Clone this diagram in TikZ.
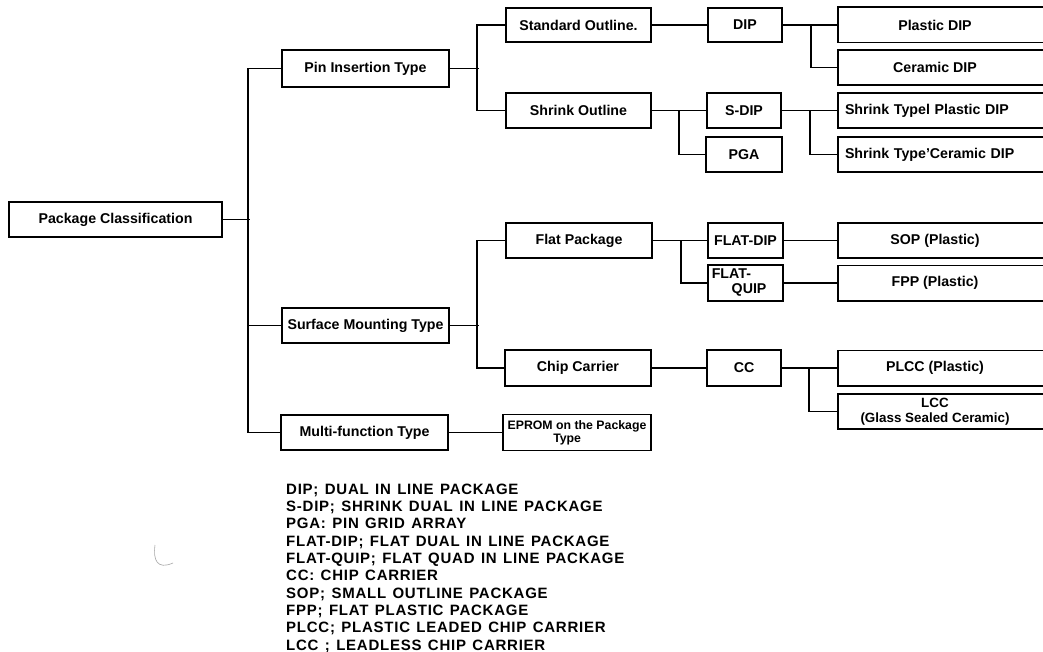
\documentclass[tikz,border=0pt]{standalone}
\usepackage{fontspec}
\setmainfont{Liberation Sans}
\newfontfamily\legendfont[LetterSpace=5,WordSpace=1.3]{Liberation Sans}
\begin{document}
\begin{tikzpicture}[x=1pt,y=-1pt,
  box/.style={draw=black, line width=1.6pt, inner sep=1pt, minimum height=35pt,
    font=\fontsize{14.2}{15}\selectfont\bfseries, align=center},
  rbox/.style={inner sep=1pt, minimum height=35pt, minimum width=194pt,
    font=\fontsize{14.2}{15}\selectfont\bfseries, align=center},
  conn/.style={line width=1.5pt, black},
  leg/.style={anchor=base west, inner sep=0pt, font=\legendfont\fontsize{15}{15}\selectfont\bfseries}
]
\useasboundingbox (0,0) rectangle (1043,652);
\clip (0,0) rectangle (1043,652);
\fill[white] (0,0) rectangle (1043,652);

% level 0
\node[box, minimum width=213pt] (pc) at (115.5,219.5) {Package Classification};
% level 1
\node[box, minimum width=167pt, minimum height=37pt] (pin) at (365.5,68.5) {Pin Insertion Type};
\node[box, minimum width=167pt] (smt) at (365.5,325.5) {Surface Mounting Type};
\node[box, minimum width=167pt] (mft) at (364.5,432.5) {Multi-function Type};
% level 2
\node[box, minimum width=145pt, minimum height=34pt] (std) at (578.5,25) {Standard Outline.};
\node[box, minimum width=145pt] (shr) at (578.5,110.5) {Shrink Outline};
\node[box, minimum width=146pt] (flat) at (579,240.5) {Flat Package};
\node[box, minimum width=146pt, minimum height=36pt] (chip) at (578,368) {Chip Carrier};
\node[box, minimum width=148pt, minimum height=36pt, font=\fontsize{12.3}{13}\selectfont\bfseries] (eprom) at (577,432.5) {EPROM on the Package\\\hspace*{-1.6em}Type};
% level 3
\node[box, minimum width=74pt, minimum height=34pt] (dip) at (745,25) {DIP};
\node[box, minimum width=74pt] (sdip) at (744,110.5) {S-DIP};
\node[box, minimum width=76pt] (pga) at (744,154.5) {PGA};
\node[box, minimum width=75pt] (fdip) at (745.5,240.5) {FLAT-DIP};
\node[box, minimum width=75pt, minimum height=36pt, align=left] (fquip) at (745.5,283) {\hspace*{-0.9em}FLAT-\\\hspace*{0.5em}QUIP};
\node[box, minimum width=74pt, minimum height=36pt] (cc) at (744,368) {CC};
% level 4 (boxes run off the right edge)
\node[rbox] (pdip) at (935,25) {Plastic DIP};
\node[rbox] (cdip) at (935,67.5) {Ceramic DIP};
\node[rbox, text width=180pt, align=left] (stp) at (935,110.5) {Shrink Typel Plastic DIP};
\node[rbox, text width=180pt, align=left] (stc) at (935,154.5) {Shrink Type'Ceramic DIP};
\node[rbox] (sop) at (935,240.5) {SOP (Plastic)};
\node[rbox] (fpp) at (935,283) {FPP (Plastic)};
\node[rbox] (plcc) at (935,368) {PLCC (Plastic)};
\node[rbox, font=\fontsize{13.4}{15}\selectfont\bfseries] (lcc) at (935,411.5) {LCC\\(Glass Sealed Ceramic)};
\foreach \n in {pdip,cdip,stp,stc,sop,fpp,plcc,lcc}
  \draw[line width=1.6pt] (\n.north west) rectangle ([xshift=30pt]\n.south east);

% connectors
\draw[conn] (pc.east) -- ++(27,0);
\draw[conn] (pin.west) -- ++(-33,0) |- (mft.west);
\draw[conn] (smt.west) -- ++(-33,0);

\draw[conn] (pin.east) -- ++(29,0);
\draw[conn] (std.west) -- ++(-28,0) |- (shr.west);
\draw[conn] (smt.east) -- ++(29,0);
\draw[conn] (flat.west) -- ++(-28,0) |- (chip.west);
\draw[conn] (mft.east) -- (eprom.west |- mft.east);

\draw[conn] (std.east) -- (dip.west);
\draw[conn] (shr.east) -- (sdip.west);
\draw[conn] (shr.east) ++(27,0) |- (pga.west);
\draw[conn] (flat.east) -- (fdip.west);
\draw[conn] (flat.east) ++(28,0) |- (fquip.west);
\draw[conn] (chip.east) -- (cc.west);

\draw[conn] (dip.east) -- (pdip.west);
\draw[conn] (dip.east) ++(28,0) |- (cdip.west);
\draw[conn] (sdip.east) -- (stp.west);
\draw[conn] (sdip.east) ++(28,0) |- (stc.west);
\draw[conn] (fdip.east) -- (sop.west);
\draw[conn] (fquip.east) -- (fpp.west);
\draw[conn] (cc.east) -- (plcc.west);
\draw[conn] (cc.east) ++(27,0) |- (lcc.west);

% legend
\node[leg] (l1) at (286,494) {DIP; DUAL IN LINE PACKAGE};
\node[leg] (l2) at (286,511.3) {S-DIP; SHRINK DUAL IN LINE PACKAGE};
\node[leg] (l3) at (286,528.6) {PGA: PIN GRID ARRAY};
\node[leg] (l4) at (286,546) {FLAT-DIP; FLAT DUAL IN LINE PACKAGE};
\node[leg] (l5) at (286,563.3) {FLAT-QUIP; FLAT QUAD IN LINE PACKAGE};
\node[leg] (l6) at (286,580.6) {CC: CHIP CARRIER};
\node[leg] (l7) at (286,598) {SOP; SMALL OUTLINE PACKAGE};
\node[leg] (l8) at (286,615.3) {FPP; FLAT PLASTIC PACKAGE};
\node[leg] (l9) at (286,632.6) {PLCC; PLASTIC LEADED CHIP CARRIER};
\node[leg] (l10) at (286,650) {LCC ; LEADLESS CHIP CARRIER};

% stray pen mark
\draw[gray!70, line width=0.6pt] (155,545) .. controls (153,560) and (157,570) .. (173,563);
\end{tikzpicture}
\end{document}
